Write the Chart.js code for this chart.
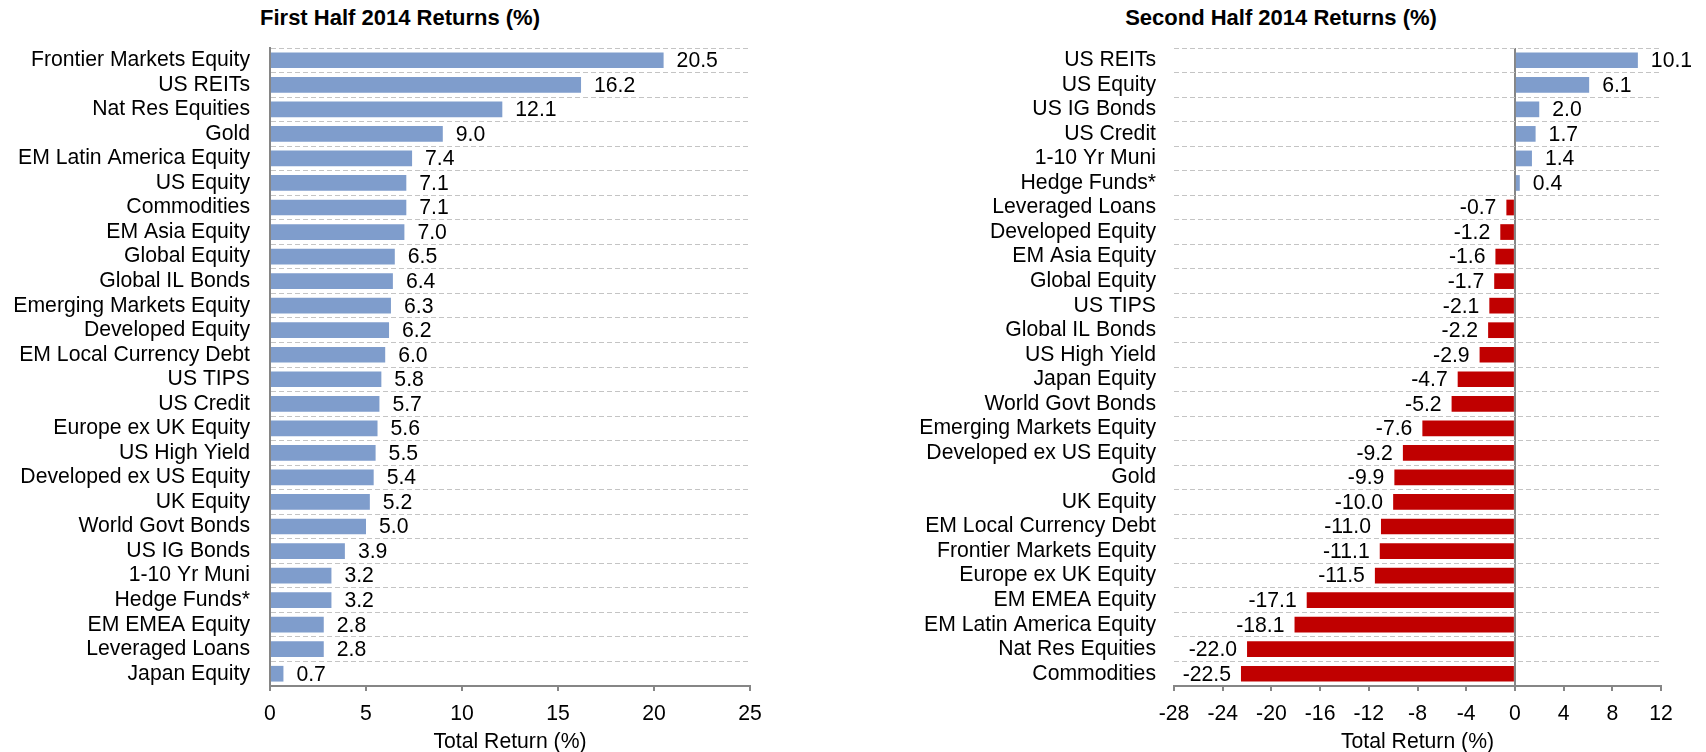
<!DOCTYPE html>
<html>
<head>
<meta charset="utf-8">
<script src="https://cdn.jsdelivr.net/npm/chart.js@4/dist/chart.umd.min.js"></script>
<style>
    html, body { margin: 0; padding: 0; background: #fff; }
    body { width: 1706px; height: 752px; position: relative; overflow: hidden; }
    .chart-title {
        position: absolute;
        top: 6px;
        width: 500px;
        text-align: center;
        font: bold 22px "Liberation Sans", Arial, sans-serif;
        line-height: 24px;
        color: #000;
    }
    canvas { position: absolute; top: 0; }
</style>
</head>
<body>
<div class="chart-title" style="left: 150px;">First Half 2014 Returns (%)</div>
<div class="chart-title" style="left: 1031px;">Second Half 2014 Returns (%)</div>
<canvas id="firstHalf" width="800" height="752" style="left: 0;"></canvas>
<canvas id="secondHalf" width="826" height="752" style="left: 880px;"></canvas>

<script>
// 2014 상반기 수익률
const firstHalfLabels = [
    "Frontier Markets Equity", "US REITs", "Nat Res Equities", "Gold", "EM Latin America Equity",
    "US Equity", "Commodities", "EM Asia Equity", "Global Equity", "Global IL Bonds",
    "Emerging Markets Equity", "Developed Equity", "EM Local Currency Debt", "US TIPS", "US Credit",
    "Europe ex UK Equity", "US High Yield", "Developed ex US Equity", "UK Equity", "World Govt Bonds",
    "US IG Bonds", "1-10 Yr Muni", "Hedge Funds*", "EM EMEA Equity", "Leveraged Loans", "Japan Equity"
];
const firstHalfValues = [
    20.5, 16.2, 12.1, 9.0, 7.4,
    7.1, 7.1, 7.0, 6.5, 6.4,
    6.3, 6.2, 6.0, 5.8, 5.7,
    5.6, 5.5, 5.4, 5.2, 5.0,
    3.9, 3.2, 3.2, 2.8, 2.8, 0.7
];

// 2014 하반기 수익률
const secondHalfLabels = [
    "US REITs", "US Equity", "US IG Bonds", "US Credit", "1-10 Yr Muni",
    "Hedge Funds*", "Leveraged Loans", "Developed Equity", "EM Asia Equity", "Global Equity",
    "US TIPS", "Global IL Bonds", "US High Yield", "Japan Equity", "World Govt Bonds",
    "Emerging Markets Equity", "Developed ex US Equity", "Gold", "UK Equity", "EM Local Currency Debt",
    "Frontier Markets Equity", "Europe ex UK Equity", "EM EMEA Equity", "EM Latin America Equity",
    "Nat Res Equities", "Commodities"
];
const secondHalfValues = [
    10.1, 6.1, 2.0, 1.7, 1.4,
    0.4, -0.7, -1.2, -1.6, -1.7,
    -2.1, -2.2, -2.9, -4.7, -5.2,
    -7.6, -9.2, -9.9, -10.0, -11.0,
    -11.1, -11.5, -17.1, -18.1,
    -22.0, -22.5
];

// x축 범위
const firstHalfAxis = { min: 0, max: 25, step: 5 };
const secondHalfAxis = { min: -28, max: 12, step: 4 };

const axisTitle = "Total Return (%)";

const FONT = '"Liberation Sans", Arial, sans-serif';
const FONT_SIZE = 21.2;
const BLUE = "#7f9dcc";
const RED = "#c00000";
const AXIS_GREY = "#868686";
const GRID_GREY = "#c4c4c4";

Chart.defaults.font.family = FONT;
Chart.defaults.font.size = FONT_SIZE;
Chart.defaults.color = "#000";

// 막대 끝에 값 표시
const valueLabels = {
    id: "valueLabels",
    afterDatasetsDraw(chart) {
        const ctx = chart.ctx;
        const meta = chart.getDatasetMeta(0);
        const values = chart.data.datasets[0].data;
        ctx.save();
        ctx.font = FONT_SIZE + "px " + FONT;
        ctx.fillStyle = "#000";
        ctx.textBaseline = "middle";
        meta.data.forEach((bar, i) => {
            const v = values[i];
            if (v >= 0) {
                ctx.textAlign = "left";
                ctx.fillText(v.toFixed(1), bar.x + 13, bar.y + 1);
            } else {
                ctx.textAlign = "right";
                ctx.fillText(v.toFixed(1), bar.x - 10, bar.y + 1);
            }
        });
        ctx.restore();
    }
};

function makeChart(canvasId, labels, values, axis, opts) {
    const ctx = document.getElementById(canvasId).getContext("2d");
    return new Chart(ctx, {
        type: "bar",
        data: {
            labels: labels,
            datasets: [{
                data: values,
                backgroundColor: values.map(v => v >= 0 ? BLUE : RED),
                borderWidth: 0,
                barPercentage: 0.64,
                categoryPercentage: 1
            }]
        },
        options: {
            indexAxis: "y",
            responsive: false,
            animation: false,
            layout: { padding: { top: 48, right: opts.padRight, bottom: 0, left: 0 } },
            plugins: {
                legend: { display: false },
                tooltip: { enabled: false }
            },
            scales: {
                x: {
                    min: axis.min,
                    max: axis.max,
                    z: 1,
                    ticks: {
                        stepSize: axis.step,
                        padding: 10,
                        maxRotation: 0
                    },
                    grid: {
                        drawOnChartArea: opts.zeroLine,
                        color: c => (c.tick && c.tick.value === 0) ? AXIS_GREY : "rgba(0,0,0,0)",
                        lineWidth: 2,
                        tickColor: AXIS_GREY,
                        tickLength: 5,
                        tickWidth: 2
                    },
                    border: { display: true, color: AXIS_GREY, width: 2 },
                    title: {
                        display: true,
                        text: axisTitle,
                        font: { size: FONT_SIZE, lineHeight: 1 },
                        padding: { top: 0, bottom: -1 }
                    },
                    afterFit(scale) {
                        scale.height = 66;
                        scale.paddingLeft = 0;
                        scale.paddingRight = 0;
                    }
                },
                y: {
                    ticks: {
                        autoSkip: false,
                        padding: opts.labelGap
                    },
                    grid: {
                        drawTicks: false,
                        color: GRID_GREY,
                        lineWidth: 1
                    },
                    border: {
                        display: opts.leftBorder,
                        color: AXIS_GREY,
                        width: 2,
                        dash: [5, 3]
                    },
                    afterFit(scale) {
                        scale.width = opts.yWidth;
                        scale.paddingTop = 0;
                        scale.paddingBottom = 0;
                    }
                }
            }
        },
        plugins: [valueLabels]
    });
}

makeChart("firstHalf", firstHalfLabels, firstHalfValues, firstHalfAxis, {
    padRight: 50, yWidth: 270, labelGap: 20, leftBorder: true, zeroLine: false
});
makeChart("secondHalf", secondHalfLabels, secondHalfValues, secondHalfAxis, {
    padRight: 45, yWidth: 294, labelGap: 18, leftBorder: false, zeroLine: true
});
</script>
</body>
</html>
